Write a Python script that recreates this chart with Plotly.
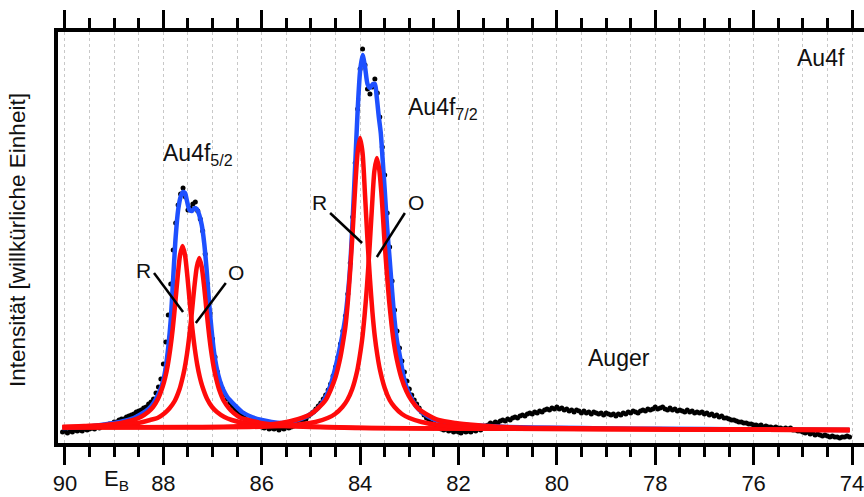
import numpy as np
import plotly.graph_objects as go

# ---------------- data (binding energy in eV, intensity in arbitrary units) ----------------
# measured spectrum: grid 90.05 -> 74.05 eV, step 0.05 eV
meas_E_start, meas_E_step = 90.05, -0.05
meas_I = [
    1.1, 1.2, 1.0, 1.2, 1.1, 1.3, 1.2, 1.3, 1.2, 1.4, 1.3, 1.4, 1.5, 1.4, 1.6, 1.5, 1.7, 1.7, 1.8, 1.9,
    1.9, 2.1, 2.1, 2.3, 2.4, 2.4, 2.6, 2.7, 2.8, 2.9, 3.1, 3.2, 3.3, 3.5, 3.6, 3.9, 4.1, 4.4, 5.0, 5.6,
    6.4, 7.9, 10.1, 12.8, 15.9, 19.3, 22.0, 23.8, 24.9, 25.5, 24.6, 23.3, 23.5, 23.9, 24.1, 23.2, 22.4, 21.2, 18.9, 15.9,
    13.0, 10.4, 8.6, 7.1, 6.0, 5.4, 4.8, 4.4, 4.0, 3.7, 3.4, 3.1, 2.9, 2.7, 2.5, 2.3, 2.1, 2.0, 1.9, 1.8,
    1.7, 1.6, 1.5, 1.6, 1.4, 1.5, 1.4, 1.5, 1.3, 1.5, 1.4, 1.6, 1.5, 1.6, 1.7, 1.8, 1.9, 2.1, 2.3, 2.4,
    2.7, 2.9, 3.1, 3.4, 3.7, 4.0, 4.4, 4.8, 5.3, 5.9, 6.7, 7.6, 8.6, 9.9, 11.2, 12.7, 14.9, 18.0, 22.6, 28.0,
    33.4, 37.4, 39.4, 37.8, 35.4, 34.9, 35.6, 36.4, 35.0, 32.6, 29.6, 26.8, 23.0, 19.6, 16.2, 13.3, 11.2, 9.5, 8.2, 7.1,
    6.2, 5.4, 4.8, 4.3, 3.9, 3.5, 3.1, 2.8, 2.5, 2.3, 2.0, 1.9, 1.7, 1.5, 1.4, 1.3, 1.4, 1.2, 1.3, 1.1,
    1.2, 1.1, 1.0, 1.2, 1.1, 1.2, 1.1, 1.3, 1.2, 1.4, 1.3, 1.6, 1.7, 1.8, 2.0, 1.9, 2.1, 2.0, 2.2, 2.3,
    2.2, 2.4, 2.3, 2.5, 2.6, 2.5, 2.7, 2.8, 2.7, 2.9, 3.0, 2.9, 3.1, 3.0, 3.2, 3.1, 3.3, 3.4, 3.3, 3.5,
    3.4, 3.6, 3.4, 3.5, 3.3, 3.4, 3.2, 3.3, 3.1, 3.3, 3.2, 3.0, 3.2, 3.0, 3.1, 2.9, 3.1, 3.0, 2.9, 3.0,
    2.8, 3.0, 2.9, 2.8, 2.9, 2.7, 2.9, 2.8, 3.0, 2.9, 3.1, 3.0, 3.2, 3.1, 3.0, 3.2, 3.3, 3.2, 3.4, 3.3,
    3.4, 3.6, 3.4, 3.5, 3.6, 3.4, 3.3, 3.5, 3.3, 3.4, 3.2, 3.3, 3.2, 3.1, 3.3, 3.1, 3.2, 3.0, 3.1, 3.0,
    3.1, 2.9, 3.0, 2.8, 2.9, 2.7, 2.8, 2.6, 2.7, 2.5, 2.5, 2.4, 2.3, 2.3, 2.2, 2.1, 2.1, 2.0, 2.0, 1.9,
    1.9, 1.8, 1.8, 1.7, 1.8, 1.6, 1.7, 1.6, 1.6, 1.5, 1.6, 1.5, 1.5, 1.4, 1.5, 1.4, 1.5, 1.3, 1.3, 1.2,
    1.2, 1.1, 1.0, 1.1, 0.9, 1.0, 0.8, 0.9, 0.8, 0.7, 0.8, 0.7, 0.6, 0.7, 0.6, 0.6, 0.5, 0.6, 0.6, 0.7,
    0.6,
]
meas_E = np.round(meas_E_start + meas_E_step * np.arange(len(meas_I)), 2)

# total fit (envelope incl. background)
fit_E = [90.05, 89.8, 89.5, 89.2, 89.0, 88.8, 88.6, 88.45, 88.3, 88.2, 88.1, 88.0, 87.95, 87.9, 87.85, 87.8,
         87.75, 87.7, 87.65, 87.6, 87.56, 87.52, 87.47, 87.42, 87.36, 87.32, 87.27, 87.22, 87.17, 87.12, 87.07,
         87.02, 86.97, 86.92, 86.85, 86.78, 86.7, 86.55, 86.4, 86.2, 86.0, 85.8, 85.6, 85.4, 85.2, 85.0, 84.85,
         84.7, 84.6, 84.5, 84.4, 84.3, 84.25, 84.2, 84.15, 84.1, 84.05, 84.0, 83.95, 83.9, 83.85, 83.8, 83.74,
         83.7, 83.66, 83.62, 83.58, 83.54, 83.5, 83.45, 83.4, 83.35, 83.3, 83.25, 83.2, 83.1, 83.0, 82.85, 82.7,
         82.5, 82.2, 81.8, 81.4, 81.0, 80.0, 79.0, 78.0, 76.0, 74.05]
fit_I = [1.5, 1.55, 1.65, 1.85, 2.0, 2.2, 2.5, 2.9, 3.4, 4.0, 4.9, 6.3, 7.6, 9.6, 12.3, 16.5,
         20.6, 23.3, 24.6, 25.1, 25.0, 24.2, 23.3, 23.2, 23.5, 23.4, 22.8, 21.8, 20.0, 17.3, 14.0,
         11.3, 9.1, 7.6, 6.2, 5.3, 4.6, 3.8, 3.1, 2.6, 2.3, 2.1, 2.0, 2.1, 2.4, 2.9, 3.5,
         4.6, 5.8, 7.6, 9.8, 12.6, 14.8, 17.8, 22.5, 27.8, 33.3, 37.2, 38.8, 37.6, 35.9, 35.5, 35.9,
         35.9, 34.5, 32.6, 31.0, 28.2, 25.3, 21.5, 18.4, 15.2, 12.3, 10.2, 8.9, 6.3, 4.9, 3.6, 2.9,
         2.35, 2.0, 1.8, 1.7, 1.6, 1.52, 1.46, 1.42, 1.36, 1.3]

# component R of Au4f5/2
r52_E = [90.05, 89.61, 89.21, 88.86, 88.61, 88.46, 88.31, 88.21, 88.11, 88.01, 87.96, 87.91, 87.86, 87.81,
         87.76, 87.71, 87.66, 87.61, 87.56, 87.51, 87.46, 87.41, 87.36, 87.31, 87.26, 87.21, 87.11, 87.01,
         86.91, 86.76, 86.61, 86.36, 86.01, 85.61, 85.01, 84.11, 82.61, 79.6, 74.05]
r52_I = [1.6, 1.7, 1.8, 2.0, 2.3, 2.6, 3.1, 3.6, 4.4, 5.7, 6.6, 7.8, 9.4, 11.4,
         13.9, 16.6, 18.8, 19.7, 18.8, 16.6, 13.9, 11.4, 9.4, 7.8, 6.6, 5.7, 4.4, 3.6,
         3.1, 2.6, 2.3, 2.0, 1.8, 1.7, 1.6, 1.5, 1.45, 1.4, 1.3]

# component O of Au4f5/2
o52_E = [90.05, 89.27, 88.87, 88.52, 88.27, 88.12, 87.97, 87.87, 87.77, 87.67, 87.62, 87.57, 87.52, 87.47,
         87.42, 87.37, 87.32, 87.27, 87.22, 87.17, 87.12, 87.07, 87.02, 86.97, 86.92, 86.87, 86.77, 86.67,
         86.57, 86.42, 86.27, 86.02, 85.67, 85.27, 84.67, 83.77, 82.27, 79.6, 74.05]
o52_I = [1.6, 1.7, 1.8, 2.0, 2.3, 2.5, 3.0, 3.5, 4.2, 5.4, 6.3, 7.4, 8.9, 10.8,
         13.1, 15.6, 17.6, 18.5, 17.6, 15.6, 13.1, 10.8, 8.9, 7.4, 6.3, 5.4, 4.2, 3.5,
         3.0, 2.5, 2.3, 2.0, 1.8, 1.7, 1.6, 1.5, 1.45, 1.4, 1.3]

# component R of Au4f7/2
r72_E = [90.05, 87.5, 86.6, 86.0, 85.6, 85.25, 85.0, 84.85, 84.7, 84.6, 84.5, 84.4, 84.35, 84.3, 84.25,
         84.2, 84.15, 84.1, 84.05, 84.0, 83.95, 83.9, 83.85, 83.8, 83.75, 83.7, 83.65, 83.6, 83.5, 83.4,
         83.3, 83.15, 83.0, 82.75, 82.4, 82.0, 81.4, 80.5, 79.0, 76.5, 74.05]
r72_I = [1.55, 1.6, 1.65, 1.8, 2.0, 2.4, 2.9, 3.5, 4.3, 5.3, 6.6, 8.6, 10.0, 11.6, 14.1,
         17.4, 21.3, 25.6, 29.1, 30.5, 29.0, 24.8, 20.3, 16.4, 13.1, 10.6, 8.8, 7.4, 5.5, 4.3,
         3.6, 2.9, 2.5, 2.1, 1.8, 1.65, 1.55, 1.45, 1.4, 1.35, 1.3]

# component O of Au4f7/2
o72_E = [90.05, 87.16, 86.26, 85.66, 85.26, 84.91, 84.66, 84.51, 84.36, 84.26, 84.16, 84.06, 84.01, 83.96,
         83.91, 83.86, 83.81, 83.76, 83.71, 83.66, 83.61, 83.56, 83.51, 83.46, 83.41, 83.36, 83.31, 83.26,
         83.16, 83.06, 82.96, 82.81, 82.66, 82.41, 82.06, 81.66, 81.06, 80.16, 78.5, 76.5, 74.05]
o72_I = [1.55, 1.55, 1.6, 1.7, 1.85, 2.1, 2.5, 2.9, 3.6, 4.3, 5.4, 7.2, 8.6, 10.3,
         12.7, 15.7, 19.4, 23.5, 27.2, 28.5, 27.3, 24.5, 20.6, 17.2, 14.2, 11.8, 9.9, 8.5,
         6.5, 5.2, 4.3, 3.4, 2.9, 2.3, 2.0, 1.8, 1.6, 1.5, 1.42, 1.36, 1.3]

major_ticks = [90, 88, 86, 84, 82, 80, 78, 76, 74]
major_labels = ["90", "88", "86", "84", "82", "80", "78", "76", "74"]

# ---------------- figure ----------------
FONT = "Liberation Sans, Arial, Helvetica, sans-serif"
BLUE = "#1e50ff"
RED = "#ff0a0a"
TXT_COLOR = "#111111"
X_RANGE = [90.142, 73.756]
Y_RANGE = [0, 41.1]

fig = go.Figure()
fig.add_trace(go.Scatter(x=meas_E, y=meas_I, mode="markers",
                         marker=dict(color="black", size=5), hoverinfo="skip"))
fig.add_trace(go.Scatter(x=fit_E, y=fit_I, mode="lines", line=dict(color=BLUE, width=4.5, shape="spline", smoothing=0.7),
                         hoverinfo="skip"))
for ex, iy in [(r52_E, r52_I), (o52_E, o52_I), (r72_E, r72_I), (o72_E, o72_I)]:
    fig.add_trace(go.Scatter(x=ex, y=iy, mode="lines",
                             line=dict(color=RED, width=4.5, shape="spline", smoothing=0.7), hoverinfo="skip"))
# dummy trace for the top (mirror) axis
fig.add_trace(go.Scatter(x=[None], y=[None], xaxis="x2", mode="lines", hoverinfo="skip"))

def axis_common():
    return dict(
        range=X_RANGE, tickvals=major_ticks, ticks="outside", ticklen=18, tickwidth=3, tickcolor="black",
        showline=True, linewidth=4, linecolor="black", zeroline=False, automargin=False,
        minor=dict(dtick=0.5, tick0=74, ticks="outside", ticklen=10, tickwidth=3, tickcolor="black"),
    )

xa = axis_common()
xa["minor"].update(showgrid=True, gridcolor="#c8c8c8", gridwidth=1, griddash="dot")
xa2 = axis_common()
xa2["minor"].update(showgrid=False)

fig.update_layout(
    width=864, height=497,
    margin=dict(l=58, r=0, t=32, b=54, autoexpand=False),
    paper_bgcolor="white", plot_bgcolor="white",
    showlegend=False,
    font=dict(family=FONT, size=22, color=TXT_COLOR),
    xaxis=dict(**xa, ticktext=major_labels, tickfont=dict(size=22, family=FONT, color=TXT_COLOR),
               ticklabeloverflow="allow",
               showgrid=True, gridcolor="#c8c8c8", gridwidth=1, griddash="dot"),
    xaxis2=dict(**xa2, overlaying="x", side="top", showticklabels=False, showgrid=False, anchor="y"),
    yaxis=dict(range=Y_RANGE, showline=True, linewidth=4, linecolor="black", ticks="", automargin=False,
               showticklabels=False, showgrid=False, zeroline=False),
)

big = dict(family=FONT, size=23, color=TXT_COLOR)
mid = dict(family=FONT, size=21, color=TXT_COLOR)
ann = [
    dict(x=74.63, y=38.5, text="Au4f", xanchor="center", yanchor="middle", font=big),
    dict(x=88.05, y=28.9, text="Au4f<sub>5/2</sub>", xanchor="left", yanchor="middle", font=big),
    dict(x=83.07, y=33.5, text="Au4f<sub>7/2</sub>", xanchor="left", yanchor="middle", font=big),
    dict(x=78.74, y=8.5, text="Auger", xanchor="center", yanchor="middle", font=big),
    dict(x=88.41, y=17.3, text="R", xanchor="center", yanchor="middle", font=mid),
    dict(x=86.52, y=17.1, text="O", xanchor="center", yanchor="middle", font=mid),
    dict(x=84.82, y=24.1, text="R", xanchor="center", yanchor="middle", font=mid),
    dict(x=82.87, y=24.1, text="O", xanchor="center", yanchor="middle", font=mid),
]
for a in ann:
    fig.add_annotation(xref="x", yref="y", showarrow=False, **a)
fig.add_annotation(xref="x", yref="paper", x=89.25, y=-0.09, text="E<sub>B</sub>", showarrow=False,
                   xanchor="left", yanchor="middle", font=dict(family=FONT, size=22, color=TXT_COLOR))
fig.add_annotation(xref="paper", yref="paper", x=-0.0496, y=0.494, text="Intensität [willkürliche Einheit]",
                   textangle=-90, showarrow=False, xanchor="center", yanchor="middle",
                   font=dict(family=FONT, size=22.5, color=TXT_COLOR))

leaders = [((88.19, 17.0), (87.60, 13.1)), ((86.73, 16.0), (87.34, 12.0)),
           ((84.61, 23.0), (83.96, 20.0)), ((83.09, 23.0), (83.66, 18.6))]
for (x0, y0), (x1, y1) in leaders:
    fig.add_shape(type="line", xref="x", yref="y", x0=x0, y0=y0, x1=x1, y1=y1,
                  line=dict(color="black", width=2.5))

fig.write_html("out.html", config={"displayModeBar": False},
               post_script="document.body.style.margin='0';document.body.style.overflow='hidden';")
